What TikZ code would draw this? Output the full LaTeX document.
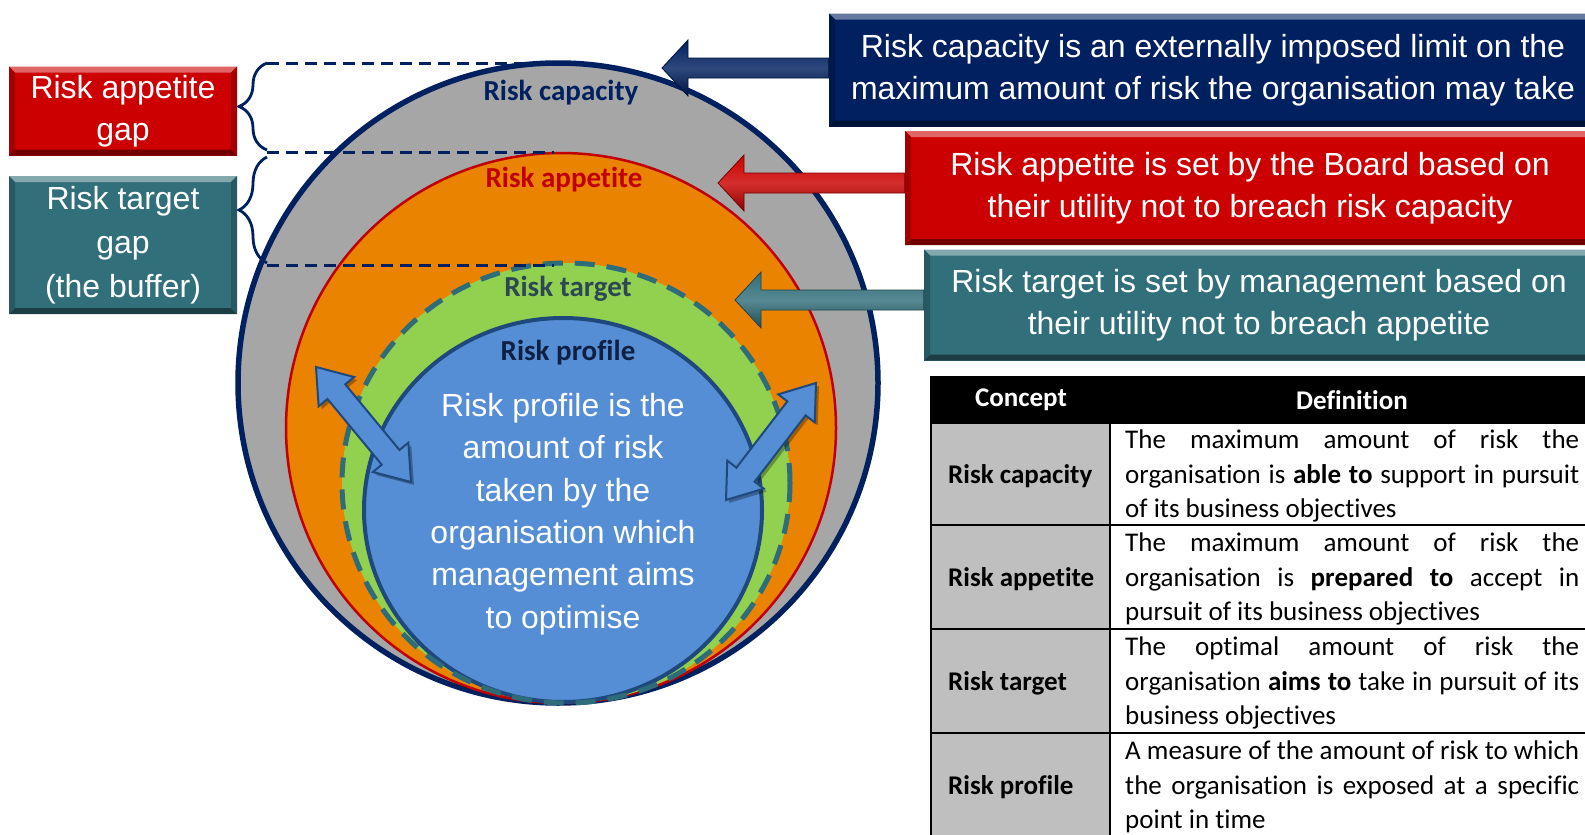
\documentclass[tikz,border=0pt]{standalone}
\usepackage{fontspec}
\setmainfont{Liberation Sans}
\newfontfamily\calibri[Ligatures=NoCommon]{Carlito}
\usetikzlibrary{calc,decorations.pathreplacing}

\definecolor{capnavy}{RGB}{0,32,96}
\definecolor{appred}{RGB}{192,0,0}
\definecolor{boxred}{RGB}{204,0,0}
\definecolor{tgtteal}{RGB}{49,111,122}
\definecolor{capgray}{RGB}{166,166,166}
\definecolor{apporange}{RGB}{233,131,0}
\definecolor{tgtgreen}{RGB}{146,208,80}
\definecolor{tgtdash}{RGB}{46,108,122}
\definecolor{tgttext}{RGB}{44,72,84}
\definecolor{profblue}{RGB}{85,142,213}
\definecolor{profline}{RGB}{31,73,125}
\definecolor{proftext}{RGB}{16,32,68}
\definecolor{cellgray}{RGB}{191,191,191}

\newcommand{\bigtxt}{\fontsize{32}{41.5}\selectfont}
\newcommand{\tabtxt}{\calibri\fontsize{27}{34.3}\selectfont}

\tikzset{
  bevelbox/.style={fill=#1, inner sep=0pt, align=center, text=white, font=\bigtxt,
    path picture={
      \fill[#1!60!white] (path picture bounding box.north west) -- (path picture bounding box.north east)
        -- ([shift={(-6pt,-6pt)}]path picture bounding box.north east) -- ([shift={(6pt,-6pt)}]path picture bounding box.north west) -- cycle;
      \fill[#1!55!black] (path picture bounding box.south west) -- (path picture bounding box.south east)
        -- ([shift={(-6pt,6pt)}]path picture bounding box.south east) -- ([shift={(6pt,6pt)}]path picture bounding box.south west) -- cycle;
      \fill[#1!80!black] (path picture bounding box.north west) -- ([shift={(6pt,-6pt)}]path picture bounding box.north west)
        -- ([shift={(6pt,6pt)}]path picture bounding box.south west) -- (path picture bounding box.south west) -- cycle;
      \fill[#1!80!black] (path picture bounding box.north east) -- ([shift={(-6pt,-6pt)}]path picture bounding box.north east)
        -- ([shift={(-6pt,6pt)}]path picture bounding box.south east) -- (path picture bounding box.south east) -- cycle;
    }},
  ringlabel/.style={font={\calibri\bfseries\fontsize{29}{34}\selectfont}, inner sep=0pt},
  gapbrace/.style={decorate, decoration={brace, amplitude=28pt}, draw=capnavy, line width=2.8pt},
  guide/.style={draw=capnavy, line width=3pt, dash pattern=on 12pt off 7pt},
  arrowshadow/.style={fill=black, opacity=0.3, transform canvas={shift={(3pt,-3pt)}}},
  arrowbody/.style={fill=profblue, draw=profline, line width=2pt, line join=miter},
  tabline/.style={draw=black, line width=2pt},
  headtxt/.style={font={\tabtxt\bfseries}, text=white, inner sep=0pt},
  concepttxt/.style={font={\tabtxt\bfseries}, anchor=west, inner sep=0pt},
  deftxt/.style={font=\tabtxt, anchor=west, inner sep=0pt, text width=454pt, align=justify},
}

% block arrow from a box to a tip coordinate
\newcommand{\blockarrow}[3]{%
  \path[draw=#3!60!black, line width=0.8pt, top color=#3, bottom color=#3!70!black, middle color=#3!82!white]
    let \p1=(#1.west), \p2=(#2) in
    (\x1,\y2+10pt) -- (\x2+26pt,\y2+10pt) -- (\x2+26pt,\y2+28pt) -- (\x2,\y2)
    -- (\x2+26pt,\y2-28pt) -- (\x2+26pt,\y2-10pt) -- (\x1,\y2-10pt) -- cycle;
}
% double headed block arrow between two coordinates
\newcommand{\dblarrow}[3]{%
  \path[#1] (#2) -- ($(#2)!32pt!(#3)!23pt!90:(#3)$) -- ($(#2)!32pt!(#3)!11.5pt!90:(#3)$)
    -- ($(#3)!32pt!(#2)!11.5pt!-90:(#2)$) -- ($(#3)!32pt!(#2)!23pt!-90:(#2)$) -- (#3)
    -- ($(#3)!32pt!(#2)!23pt!90:(#2)$) -- ($(#3)!32pt!(#2)!11.5pt!90:(#2)$)
    -- ($(#2)!32pt!(#3)!11.5pt!-90:(#3)$) -- ($(#2)!32pt!(#3)!23pt!-90:(#3)$) -- cycle;
}

\begin{document}
\begin{tikzpicture}[x=1pt, y=-1pt]
\useasboundingbox (0,0) rectangle (1585,835);
\clip (0,0) rectangle (1585,835);

% Nested circles, all resting on the same bottom point
\filldraw[fill=capgray, draw=capnavy, line width=5.5pt] (558,383) circle [radius=320pt];
\filldraw[fill=apporange, draw=appred, line width=2.5pt] (561,428) circle [radius=275pt];
\fill[tgtgreen] (566,483) ellipse [x radius=224pt, y radius=220pt];
\filldraw[fill=profblue, draw=profline, line width=4pt] (563,510) ellipse [x radius=199pt, y radius=192pt];
\draw[tgtdash, line width=5pt, dash pattern=on 20pt off 12pt] (566,483) ellipse [x radius=224pt, y radius=220pt];

% Circle labels
\node[ringlabel, text=capnavy] (caplabel) at (561,93) {Risk capacity};
\node[ringlabel, text=appred] (applabel) at (564,180) {Risk appetite};
\node[ringlabel, text=tgttext] (tgtlabel) at (568,289) {Risk target};
\node[ringlabel, text=proftext] (proflabel) at (568,353) {Risk profile};
\node[align=center, text=white, font={\fontsize{32}{42.3}\selectfont}] (proftext) at (563,514)
  {Risk profile is the\\amount of risk\\taken by the\\organisation which\\management aims\\to optimise};

% Gap braces and dashed guides
\draw[gapbrace] (267,150) -- (267,63);
\draw[gapbrace] (267,263) -- (267,157);
\foreach \yy in {63,152,265}
  \draw[guide] (267,\yy) -- (554,\yy);

% Gap boxes on the left
\node[bevelbox=boxred, minimum width=228pt, minimum height=89pt] (appgap) at (123,111) {Risk appetite\\gap};
\node[bevelbox=tgtteal, minimum width=228pt, minimum height=138pt, font={\fontsize{32}{44}\selectfont}] (tgtgap) at (123,245)
  {Risk target\\gap\\(the buffer)};

% Explanation boxes and their arrows
\node[bevelbox=capnavy, minimum width=768pt, minimum height=113pt] (capbox) at (1213,70)
  {Risk capacity is an externally imposed limit on the\\maximum amount of risk the organisation may take};
\node[bevelbox=boxred, minimum width=690pt, minimum height=114pt] (appbox) at (1250,188)
  {Risk appetite is set by the Board based on\\their utility not to breach risk capacity};
\node[bevelbox=tgtteal, minimum width=670pt, minimum height=111pt] (tgtbox) at (1259,305)
  {Risk target is set by management based on\\their utility not to breach appetite};

\coordinate (captip) at (662,68);
\coordinate (apptip) at (718,183);
\coordinate (tgttip) at (735,300);
\blockarrow{capbox}{captip}{capnavy}
\blockarrow{appbox}{apptip}{boxred}
\blockarrow{tgtbox}{tgttip}{tgtteal}

% Double arrows across the profile edge
\coordinate (lftup) at (316,367);
\coordinate (lftdn) at (411,482);
\coordinate (rgtup) at (816,383);
\coordinate (rgtdn) at (726,500);
\dblarrow{arrowshadow}{lftup}{lftdn}
\dblarrow{arrowbody}{lftup}{lftdn}
\dblarrow{arrowshadow}{rgtup}{rgtdn}
\dblarrow{arrowbody}{rgtup}{rgtdn}

% Definition table
\fill[black] (931,376) rectangle (1594,423);
\fill[cellgray] (931,423) rectangle (1110,837);
\foreach \yy in {423,525,629,733}
  \draw[tabline] (931,\yy) -- (1594,\yy);
\draw[tabline] (931,376) -- (931,837);
\draw[tabline] (1110,423) -- (1110,837);

\node[headtxt] (hdconcept) at (1021,400) {Concept};
\node[headtxt] (hddef) at (1352,400) {Definition};

\node[concepttxt] (rowcap) at (948,476) {Risk capacity};
\node[concepttxt] (rowapp) at (948,579) {Risk appetite};
\node[concepttxt] (rowtgt) at (948,683) {Risk target};
\node[concepttxt] (rowprof) at (948,787) {Risk profile};

\node[deftxt] (defcap) at (1125,476)
  {The maximum amount of risk the\linebreak organisation is \textbf{able to} support in pursuit\linebreak of its business objectives};
\node[deftxt] (defapp) at (1125,579)
  {The maximum amount of risk the\linebreak organisation is \textbf{prepared to} accept in\linebreak pursuit of its business objectives};
\node[deftxt] (deftgt) at (1125,683)
  {The optimal amount of risk the\linebreak organisation \textbf{aims to} take in pursuit of its\linebreak business objectives};
\node[deftxt] (defprof) at (1125,787)
  {A measure of the amount of risk to which\linebreak the organisation is exposed at a specific\linebreak point in time};

\end{tikzpicture}
\end{document}
